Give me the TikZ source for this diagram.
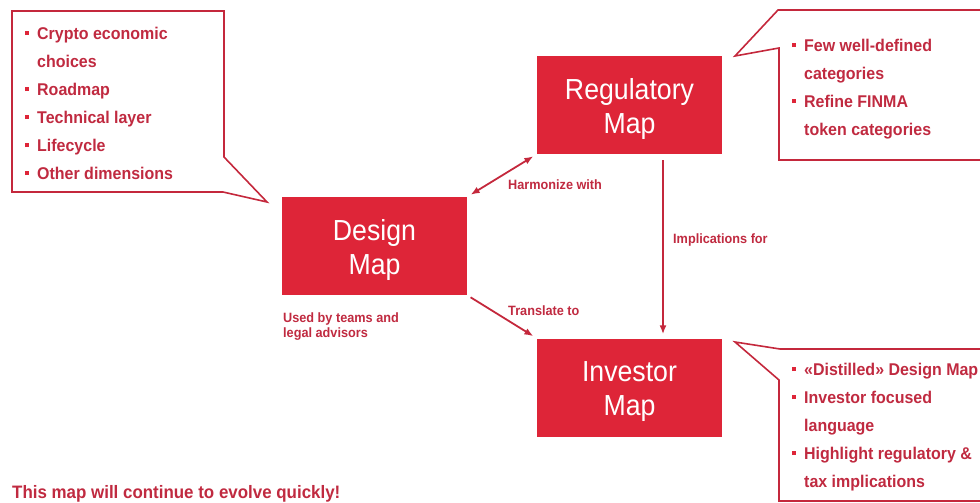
\documentclass[tikz,border=0pt]{standalone}
\usepackage{fontspec}
\setmainfont{Liberation Sans}[FakeStretch=0.94]
\newfontfamily\boxfont{Liberation Sans}[FakeStretch=0.92]
\usetikzlibrary{arrows.meta}
\definecolor{mapred}{RGB}{222,37,56}
\definecolor{maptext}{RGB}{192,42,64}
\definecolor{mapline}{RGB}{196,40,60}
\newcommand{\bx}{\makebox[12pt][l]{\textcolor{mapred}{\rule[4pt]{4pt}{4pt}}}}
\newcommand{\ind}{\hspace*{12pt}}
\newcommand{\tall}{\rule{0pt}{29pt}}

\begin{document}
\begin{tikzpicture}[x=1pt, y=-1pt,
        mapbox/.style={fill=mapred, text=white, inner sep=0,
            minimum width=185, minimum height=98, align=center,
            font=\boxfont\fontsize{29}{34}\selectfont},
        note/.style={text=maptext, inner sep=0, anchor=base west, align=left,
            font=\bfseries\fontsize{13.5}{15}\selectfont},
        bullets/.style={text=maptext, inner sep=0, anchor=north west, align=left,
            font=\bfseries\fontsize{17}{28}\selectfont},
        bubble/.style={draw=mapline, line width=1.6pt, line join=miter},
        arrow/.style={draw=mapline, line width=1.8pt, >={Latex[length=9pt,width=7pt]},
            shorten >=4pt, shorten <=4pt}
    ]
    \useasboundingbox (0,0) rectangle (980,503);
    \begin{scope}
    \clip (0,0) rectangle (980,503);

    % --- 3つのマップ ---
    \node[mapbox] (design) at (374.5,246) {\tall Design\\Map};
    \node[mapbox] (reg) at (629.5,105) {\tall Regulatory\\Map};
    \node[mapbox] (inv) at (629.5,387.5) {\tall Investor\\Map};

    % --- 矢印 ---
    \draw[arrow, <->] (design.north east) -- (reg.south west);
    \draw[arrow, ->] (design.south east) -- (inv.north west);
    \draw[arrow, ->, shorten <=6pt] ([xshift=33.5]reg.south) -- ([xshift=33.5]inv.north);

    % --- 矢印のラベル ---
    \node[note] (harm) at (508,189) {Harmonize with};
    \node[note] (trans) at (508,315) {Translate to};
    \node[note] (impl) at (673,243) {Implications for};
    \node[note, anchor=north west] (used) at (283,312.2) {Used by teams and\\legal advisors};

    % --- 吹き出し ---
    \draw[bubble] (12,11) -- (224,11) -- (224,157) -- (267,202) -- (223,192) -- (12,192) -- cycle;
    \draw[bubble] (778,10) -- (995,10) -- (995,160) -- (779,160) -- (779,48) -- (735,56) -- cycle;
    \draw[bubble] (735,342) -- (780,349) -- (995,349) -- (995,501) -- (779,501) -- (779,380) -- cycle;

    % --- 箇条書き ---
    \node[bullets] (dlist) at (25,26.6) {\bx Crypto economic\\ \ind choices\\ \bx Roadmap\\
        \bx Technical layer\\ \bx Lifecycle\\ \bx Other dimensions};
    \node[bullets] (rlist) at (792,38.6) {\bx Few well-defined\\ \ind categories\\
        \bx Refine FINMA\\ \ind token categories};
    \node[bullets] (ilist) at (792,362.6) {\bx «Distilled» Design Map\\ \bx Investor focused\\
        \ind language\\ \bx Highlight regulatory \&\\ \ind tax implications};

    % --- 注記 ---
    \node[note, font=\bfseries\fontsize{18}{20}\selectfont] (foot) at (12,498) {This map will continue to evolve quickly!};
    \end{scope}
\end{tikzpicture}
\end{document}
